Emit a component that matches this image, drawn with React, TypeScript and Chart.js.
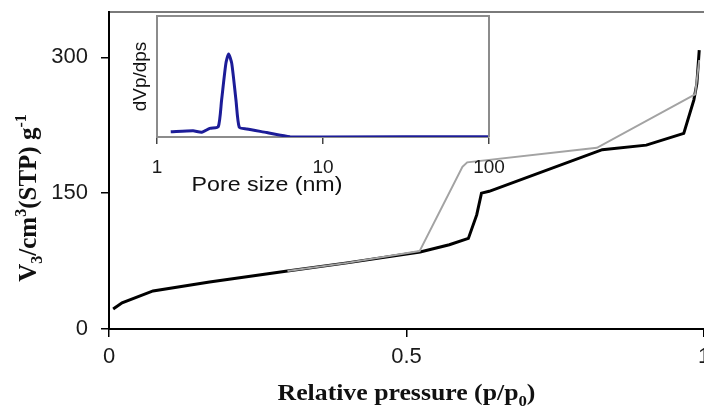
import React, { useEffect, useRef } from "react";
import { Chart, registerables } from "chart.js";
Chart.register(...registerables);

// Main isotherm axes
const xTicks = [0, 0.5, 1];
const yTicks = [0, 150, 300];
// Adsorption branch (black)
const pressureAds = [0.007, 0.022, 0.074, 0.169, 0.3, 0.4, 0.523, 0.572, 0.604, 0.618, 0.626, 0.639, 0.829, 0.903, 0.966, 0.983, 0.988, 0.992];
const volumeAds = [22, 29, 42, 52, 64, 73, 85, 93, 100, 126, 150, 152, 198, 203, 216, 253, 271, 308];
// Desorption branch (gray)
const pressureDes = [0.992, 0.985, 0.82, 0.602, 0.594, 0.522, 0.4, 0.3];
const volumeDes = [297, 259, 200, 184, 179, 86, 73, 64];
// Inset: pore size distribution
const insetTicks = [1, 10, 100];
const poreSize = [1.21, 1.65, 1.86, 2.08, 2.34, 2.45, 2.6, 2.7, 2.82, 2.99, 3.13, 3.47, 4.58, 6.33, 10, 100];
const dvdp = [0.15, 0.18, 0.14, 0.25, 0.3, 1.07, 2.13, 2.4, 2.13, 1.07, 0.28, 0.23, 0.13, 0.01, 0, 0.01];

const X_TITLE = "Relative pressure (p/p";
const Y_TITLE = ["V", "3", "/cm", "3", "(STP) g", "-1"];
const INSET_X_TITLE = "Pore size (nm)";
const INSET_Y_TITLE = "dVp/dps";

type Seg = { text: string; size: number; dy?: number };

function drawRich(
  ctx: CanvasRenderingContext2D,
  segs: Seg[],
  cx: number,
  cy: number,
  rotated: boolean,
  font: string,
  scaleX: number
) {
  ctx.save();
  ctx.translate(cx, cy);
  if (rotated) ctx.rotate(-Math.PI / 2);
  ctx.scale(scaleX, 1);
  let total = 0;
  const widths: number[] = [];
  for (const s of segs) {
    ctx.font = `${font.replace("SIZE", String(s.size))}`;
    const w = ctx.measureText(s.text).width;
    widths.push(w);
    total += w;
  }
  let x = -total / 2;
  ctx.textAlign = "left";
  ctx.textBaseline = "alphabetic";
  ctx.fillStyle = "#111";
  const base = segs[0].size * 0.35;
  segs.forEach((s, i) => {
    ctx.font = `${font.replace("SIZE", String(s.size))}`;
    ctx.fillText(s.text, x, base + (s.dy || 0));
    x += widths[i];
  });
  ctx.restore();
}

const SERIF = "bold SIZEpx 'Liberation Serif', 'Times New Roman', serif";
const SANS = "SIZEpx 'Liberation Sans', Arial, sans-serif";

export default function App() {
  const mainRef = useRef<HTMLCanvasElement>(null);
  const insetRef = useRef<HTMLCanvasElement>(null);

  useEffect(() => {
    const titlesPlugin = {
      id: "titles",
      afterDraw(chart: any) {
        const ctx = chart.ctx as CanvasRenderingContext2D;
        const ca = chart.chartArea;
        drawRich(
          ctx,
          [
            { text: X_TITLE, size: 23 },
            { text: "0", size: 15, dy: 6 },
            { text: ")", size: 23 },
          ],
          (ca.left + ca.right) / 2,
          392,
          false,
          SERIF,
          1.12
        );
        drawRich(
          ctx,
          [
            { text: Y_TITLE[0], size: 25 },
            { text: Y_TITLE[1], size: 16, dy: 6 },
            { text: Y_TITLE[2], size: 25 },
            { text: Y_TITLE[3], size: 16, dy: -10 },
            { text: Y_TITLE[4], size: 25 },
            { text: Y_TITLE[5], size: 16, dy: -10 },
          ],
          27,
          198,
          true,
          SERIF,
          1
        );
      },
    };

    const main = new Chart(mainRef.current!, {
      type: "line",
      data: {
        datasets: [
          {
            data: pressureDes.map((p, i) => ({ x: p, y: volumeDes[i] })),
            borderColor: "#a3a3a3",
            borderWidth: 2,
            pointRadius: 0,
            tension: 0,
          },
          {
            data: pressureAds.map((p, i) => ({ x: p, y: volumeAds[i] })),
            borderColor: "#000000",
            borderWidth: 3,
            pointRadius: 0,
            tension: 0,
          },
        ],
      },
      options: {
        responsive: false,
        maintainAspectRatio: false,
        animation: false,
        devicePixelRatio: 1,
        layout: { padding: { left: 0, right: 0, top: 12, bottom: 0 } },
        plugins: { legend: { display: false }, tooltip: { enabled: false } },
        scales: {
          x: {
            type: "linear",
            position: "bottom",
            min: 0,
            max: 1,
            afterBuildTicks: (s: any) => {
              s.ticks = xTicks.map((v) => ({ value: v }));
            },
            afterFit: (s: any) => {
              s.height = 83;
              s.paddingRight = 0;
              s.paddingLeft = 0;
            },
            ticks: {
              color: "#1a1a1a",
              padding: 7,
              maxRotation: 0,
              font: { family: "'Liberation Sans', Arial, sans-serif", size: 22 },
              callback: (v: any) => String(v),
            },
            grid: { drawOnChartArea: false, drawTicks: true, tickLength: 8, color: "#000", lineWidth: 1.5 },
            border: { color: "#000", width: 2 },
          },
          x2: {
            type: "linear",
            position: "top",
            min: 0,
            max: 1,
            ticks: { display: false },
            grid: { display: false },
            border: { color: "#7a7a7a", width: 2 },
            afterFit: (s: any) => {
              s.height = 0;
              s.paddingLeft = 0;
              s.paddingRight = 0;
            },
          },
          y: {
            type: "linear",
            min: 0,
            max: 350,
            afterBuildTicks: (s: any) => {
              s.ticks = yTicks.map((v) => ({ value: v }));
            },
            afterFit: (s: any) => {
              s.width = 109;
              s.paddingTop = 0;
              s.paddingBottom = 0;
            },
            ticks: {
              color: "#1a1a1a",
              padding: 13,
              font: { family: "'Liberation Sans', Arial, sans-serif", size: 22 },
              callback: (v: any) => String(v),
            },
            grid: { drawOnChartArea: false, drawTicks: true, tickLength: 8, color: "#000", lineWidth: 1.5 },
            border: { color: "#000", width: 2 },
          },
        },
      } as any,
      plugins: [titlesPlugin],
    });

    const insetPlugin = {
      id: "insetFrame",
      afterDraw(chart: any) {
        const ctx = chart.ctx as CanvasRenderingContext2D;
        const ca = chart.chartArea;
        ctx.save();
        ctx.strokeStyle = "#8c8c8c";
        ctx.lineWidth = 2;
        ctx.beginPath();
        ctx.moveTo(ca.left, ca.top);
        ctx.lineTo(ca.right, ca.top);
        ctx.lineTo(ca.right, ca.bottom);
        ctx.stroke();
        ctx.restore();
        drawRich(ctx, [{ text: INSET_X_TITLE, size: 20 }], 167, 184, false, SANS, 1.16);
      },
    };

    const inset = new Chart(insetRef.current!, {
      type: "line",
      data: {
        datasets: [
          {
            data: poreSize.map((p, i) => ({ x: p, y: dvdp[i] })),
            borderColor: "#1c1c98",
            borderWidth: 3,
            pointRadius: 0,
            tension: 0.2,
          },
        ],
      },
      options: {
        responsive: false,
        maintainAspectRatio: false,
        animation: false,
        devicePixelRatio: 1,
        layout: { padding: { left: 0, right: 31, top: 16, bottom: 0 } },
        plugins: { legend: { display: false }, tooltip: { enabled: false } },
        scales: {
          x: {
            type: "logarithmic",
            min: 1,
            max: 100,
            afterBuildTicks: (s: any) => {
              s.ticks = insetTicks.map((v) => ({ value: v }));
            },
            afterFit: (s: any) => {
              s.height = 63;
              s.paddingLeft = 0;
              s.paddingRight = 0;
            },
            ticks: {
              color: "#1a1a1a",
              padding: 12,
              maxRotation: 0,
              autoSkip: false,
              font: { family: "'Liberation Sans', Arial, sans-serif", size: 19 },
              callback: (v: any) => String(v),
            },
            grid: { drawOnChartArea: false, drawTicks: true, tickLength: 7, color: "#444", lineWidth: 1.5 },
            border: { color: "#8c8c8c", width: 2 },
          },
          y: {
            type: "linear",
            min: 0,
            max: 3.5,
            ticks: { display: false },
            grid: { display: false },
            border: { color: "#8c8c8c", width: 2 },
            afterFit: (s: any) => {
              s.width = 57;
              s.paddingTop = 0;
              s.paddingBottom = 0;
            },
            title: {
              display: true,
              text: INSET_Y_TITLE,
              color: "#111",
              font: { family: "'Liberation Sans', Arial, sans-serif", size: 19 },
              padding: { top: 29, bottom: 0 },
            },
          },
        },
      } as any,
      plugins: [insetPlugin],
    });

    return () => {
      main.destroy();
      inset.destroy();
    };
  }, []);

  return (
    <div style={{ position: "absolute", left: 0, top: 0, width: 704, height: 412, background: "#fff" }}>
      <canvas ref={mainRef} width={704} height={412} style={{ position: "absolute", left: 0, top: 0 }} />
      <canvas ref={insetRef} width={420} height={200} style={{ position: "absolute", left: 100, top: 0 }} />
    </div>
  );
}
